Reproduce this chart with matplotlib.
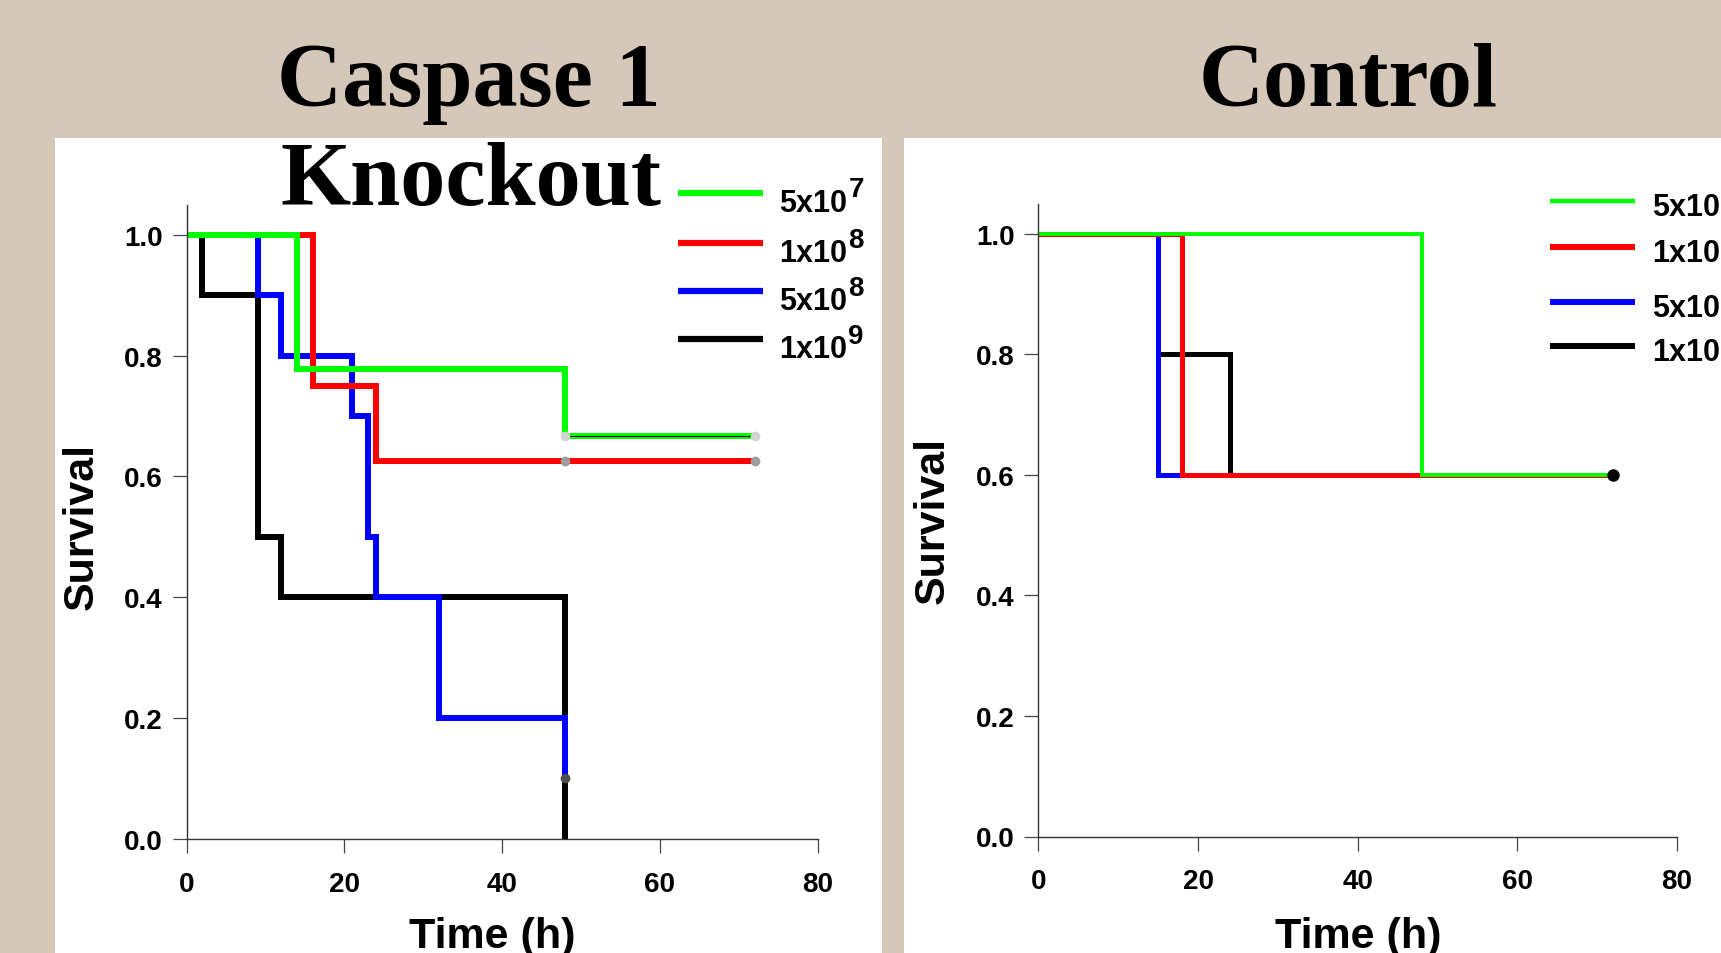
import matplotlib
matplotlib.use("Agg")
import matplotlib.pyplot as plt
from matplotlib.lines import Line2D
from matplotlib.patches import Rectangle

plt.rcParams['font.family'] = ['Liberation Sans', 'DejaVu Sans']

W, H = 1721, 954

# ---- data: Caspase 1 knockout (step changes: time, survival after the step)
dose_base = ['5x10', '1x10', '5x10', '1x10']
dose_exp = ['7', '8', '8', '9']
colors = ['#00ff00', '#ff0000', '#0000ff', '#000000']

ko_green_t = [0, 14, 48, 72]
ko_green_s = [1.0, 0.778, 0.667, 0.667]
ko_red_t = [0, 16, 24, 72]
ko_red_s = [1.0, 0.75, 0.625, 0.625]
ko_blue_t = [0, 9, 12, 21, 23, 24, 32, 48]
ko_blue_s = [1.0, 0.9, 0.8, 0.7, 0.5, 0.4, 0.2, 0.1]
ko_black_t = [0, 2, 9, 12, 48]
ko_black_s = [1.0, 0.9, 0.5, 0.4, 0.0]

# censored observations
ko_cens_green_t = [48, 72]
ko_cens_green_s = [0.667, 0.667]
ko_cens_red_t = [48, 72]
ko_cens_red_s = [0.625, 0.625]
ko_cens_blue_t = [48]
ko_cens_blue_s = [0.1]

# ---- data: Control
ct_green_t = [0, 48, 72]
ct_green_s = [1.0, 0.6, 0.6]
ct_red_t = [0, 18, 72]
ct_red_s = [1.0, 0.6, 0.6]
ct_blue_t = [0, 15, 18]
ct_blue_s = [1.0, 0.6, 0.6]
ct_black_t = [0, 15, 24, 72]
ct_black_s = [1.0, 0.8, 0.6, 0.6]
ct_cens_t = [72]
ct_cens_s = [0.6]

xticks = [0, 20, 40, 60, 80]
yticks = [0.0, 0.2, 0.4, 0.6, 0.8, 1.0]


def fx(x):
    return x / W


def fy(y):
    return 1 - y / H


fig = plt.figure(figsize=(W / 100, H / 100), dpi=100)
fig.patch.set_facecolor('#d5c8b8')

# white slide panels
fig.add_artist(Rectangle((fx(55), 0), fx(882) - fx(55), fy(139), transform=fig.transFigure,
                         facecolor='white', edgecolor='none', zorder=0))
fig.add_artist(Rectangle((fx(904), 0), 1 - fx(904), fy(139), transform=fig.transFigure,
                         facecolor='white', edgecolor='none', zorder=0))


def make_axes(x0, x80, y0, y1):
    per = (y0 - y1)
    ax = fig.add_axes([fx(x0), fy(y0), fx(x80) - fx(x0), 1.05 * per / H])
    ax.set_xlim(0, 80)
    ax.set_ylim(0, 1.05)
    ax.patch.set_alpha(0)
    for s in ['top', 'right']:
        ax.spines[s].set_visible(False)
    for s in ['left', 'bottom']:
        ax.spines[s].set_linewidth(1.0)
        ax.spines[s].set_color('#333333')
    ax.set_xticks(xticks)
    ax.set_yticks(yticks)
    ax.set_yticklabels([f'{v:.1f}' for v in yticks])
    ax.tick_params(axis='both', direction='out', length=10, width=0.9, color='#444444',
                   labelsize=20)
    ax.tick_params(axis='x', pad=13)
    ax.tick_params(axis='y', pad=7)
    for lab in ax.get_xticklabels() + ax.get_yticklabels():
        lab.set_fontweight('bold')
    return ax


def km(ax, t, s, color, lw):
    ax.step(t, s, where='post', color=color, lw=lw, solid_joinstyle='miter',
            solid_capstyle='butt', clip_on=False)


def dose_label(x, y, base, exp):
    # "5x10" plus a large superscript placed just after it
    t = fig.text(fx(x), fy(y), base, fontsize=22, fontweight='bold', ha='left', va='center')
    fig.add_artist(plt.Annotation(exp, xy=(1.0, 0.95), xycoords=t, xytext=(1, 0),
                                  textcoords='offset points', fontsize=20, fontweight='bold',
                                  ha='left', va='center'))


# ---- left panel
ax1 = make_axes(186.6, 817.7, 839.7, 236)
km(ax1, ko_black_t, ko_black_s, colors[3], 4.3)
km(ax1, ko_blue_t, ko_blue_s, colors[2], 4.3)
km(ax1, ko_red_t, ko_red_s, colors[1], 4.3)
km(ax1, ko_green_t, ko_green_s, colors[0], 4.3)
ax1.plot(ko_cens_green_t, ko_cens_green_s, color='black', lw=0.8)
ax1.plot(ko_cens_green_t, ko_cens_green_s, 'o', color='#d3d3d3', ms=7, mec='none')
ax1.plot(ko_cens_red_t, ko_cens_red_s, 'o', color='#9e9e9e', ms=7, mec='none')
ax1.plot(ko_cens_blue_t, ko_cens_blue_s, 'o', color='#4d4d4d', ms=7, mec='none')

# ---- right panel
ax2 = make_axes(1038.3, 1677.1, 837.5, 234.9)
km(ax2, ct_black_t, ct_black_s, colors[3], 3.6)
km(ax2, ct_blue_t, ct_blue_s, colors[2], 3.6)
km(ax2, ct_red_t, ct_red_s, colors[1], 3.6)
km(ax2, ct_green_t, ct_green_s, colors[0], 2.8)
ax2.plot(ct_cens_t, ct_cens_s, 'o', color='black', ms=9, mec='none', clip_on=False)

# ---- legends (drawn on the slide)
leg_left_y = [194, 244, 292, 340]
leg_right_y = [202, 248, 303, 347]
for i in range(4):
    fig.add_artist(Line2D([fx(678), fx(763)], [fy(leg_left_y[i])] * 2, color=colors[i],
                          lw=4.5, solid_capstyle='butt', transform=fig.transFigure))
    dose_label(779, leg_left_y[i] + 10, dose_base[i], dose_exp[i])
    fig.add_artist(Line2D([fx(1550), fx(1635)], [fy(leg_right_y[i])] * 2, color=colors[i],
                          lw=3.2 if i == 0 else 4.3, solid_capstyle='butt',
                          transform=fig.transFigure))
    dose_label(1652, leg_right_y[i] + 6, dose_base[i], dose_exp[i])

# ---- titles
serif = ['Liberation Serif', 'DejaVu Serif']
fig.text(fx(469), fy(106), 'Caspase 1', family=serif, fontsize=65, fontweight='bold',
         ha='center', va='baseline')
fig.text(fx(471), fy(205), 'Knockout', family=serif, fontsize=65, fontweight='bold',
         ha='center', va='baseline')
fig.text(fx(1348), fy(106), 'Control', family=serif, fontsize=65, fontweight='bold',
         ha='center', va='baseline')

# ---- axis labels
fig.text(fx(82), fy(527), 'Survival', fontsize=31, fontweight='bold', rotation=90,
         ha='center', va='center')
fig.text(fx(933), fy(521), 'Survival', fontsize=31, fontweight='bold', rotation=90,
         ha='center', va='center')
fig.text(fx(492), fy(937), 'Time (h)', fontsize=31, fontweight='bold', ha='center', va='center')
fig.text(fx(1358), fy(937), 'Time (h)', fontsize=31, fontweight='bold', ha='center', va='center')

fig.savefig('out.png', dpi=100, facecolor=fig.get_facecolor())
